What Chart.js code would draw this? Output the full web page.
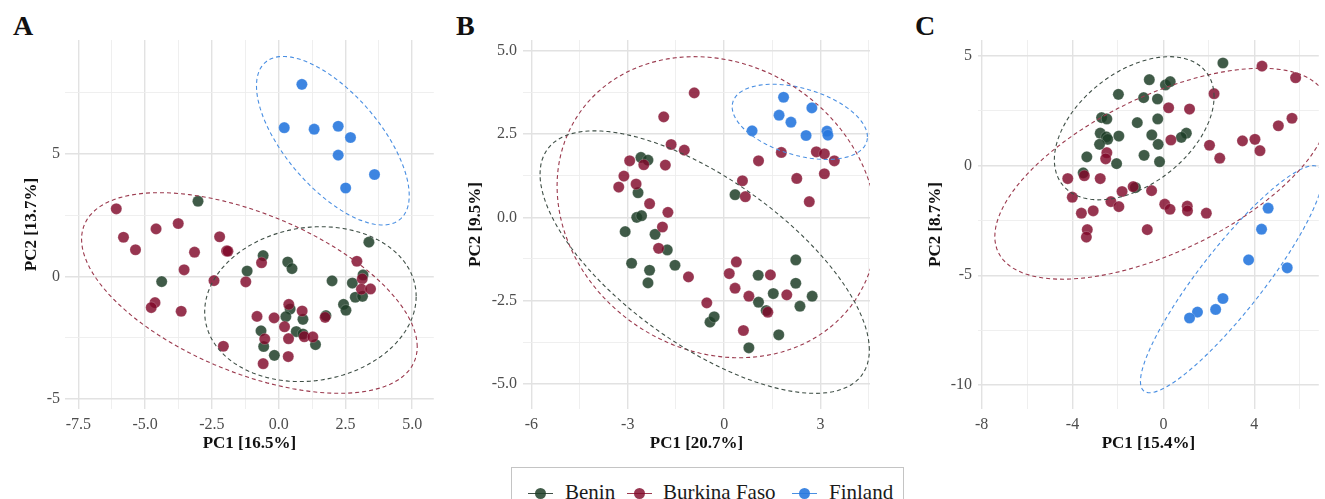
<!DOCTYPE html>
<html>
<head>
<meta charset="utf-8">
<script src="https://cdn.jsdelivr.net/npm/chart.js@4.4.1/dist/chart.umd.min.js"></script>
<style>
  body { margin: 0; background: #fff; width: 1325px; height: 499px; overflow: hidden; position: relative; font-family: "Liberation Serif", serif; }
  canvas { position: absolute; top: 0; }
  .tag { position: absolute; top: 10px; font-weight: bold; font-size: 28px; color: #111; }
  #legend { position: absolute; left: 511px; top: 467px; width: 391px; height: 45px; border: 1px solid #c4c4c4; background: #fff; }
  .key { position: absolute; top: 19px; width: 25px; height: 12px; }
  .key .ln { position: absolute; left: 0; top: 6px; width: 25px; height: 1px; }
  .key .dot { position: absolute; left: 7px; top: 1px; width: 11px; height: 11px; border-radius: 50%; }
  .lab { position: absolute; top: 12px; font-size: 21px; color: #1a1a1a; line-height: 24px; }
</style>
</head>
<body>
<div class="tag" style="left:13px">A</div>
<div class="tag" style="left:456px">B</div>
<div class="tag" style="left:915px">C</div>
<canvas id="chartA" width="440" height="460" style="left:0px"></canvas>
<canvas id="chartB" width="440" height="460" style="left:440px"></canvas>
<canvas id="chartC" width="445" height="460" style="left:880px"></canvas>
<div id="legend"></div>
<script>
// --- Données (PC1, PC2) ---
const groups = ["Benin", "Burkina Faso", "Finland"]

// Panneau A
const aBenin = [[-3.02,3.07],[3.38,1.40],[-4.38,-0.21],[-0.58,0.85],[-1.18,0.22],[0.34,0.59],[0.50,0.32],[2.0,-0.18],[2.76,-0.27],[3.16,0.06],[2.87,-0.85],[3.14,-0.81],[2.43,-1.14],[2.52,-1.38],[0.43,-1.33],[0.27,-1.64],[0.91,-1.75],[1.77,-1.60],[-0.66,-2.22],[0.66,-2.25],[0.91,-2.35],[-0.56,-2.86],[1.38,-2.78],[-0.16,-3.22]]
const aBurkina = [[-6.08,2.76],[-5.81,1.60],[-4.59,1.94],[-3.76,2.16],[-2.21,1.62],[-5.36,1.09],[-3.15,0.99],[-1.95,1.04],[-1.90,1.03],[-3.54,0.27],[-2.42,-0.17],[-1.23,-0.22],[-0.64,0.56],[2.93,0.62],[3.13,-0.10],[3.10,-0.52],[3.44,-0.51],[-4.63,-1.07],[-4.77,-1.27],[-3.65,-1.42],[-0.81,-1.63],[-0.17,-1.69],[0.38,-1.14],[0.88,-1.41],[0.22,-2.05],[1.74,-1.67],[-0.52,-2.55],[0.37,-2.54],[0.96,-2.46],[1.28,-2.47],[-2.07,-2.85],[0.36,-3.27],[-0.58,-3.56]]
const aFinland = [[0.87,7.84],[0.21,6.07],[1.33,6.01],[2.23,6.13],[2.69,5.67],[2.23,4.95],[3.59,4.16],[2.51,3.61]]

// Panneau B
const bBenin = [[-2.59,1.80],[-2.37,1.72],[-2.68,0.74],[-2.72,0.0],[-2.57,0.05],[-3.08,-0.43],[-2.15,-0.51],[-1.77,-0.98],[-2.88,-1.38],[-2.32,-1.59],[-2.37,-1.97],[-1.53,-1.44],[-0.44,-3.15],[-0.31,-2.99],[0.77,-3.92],[1.06,-1.74],[1.07,-2.55],[1.53,-2.29],[1.31,-2.80],[2.23,-1.28],[2.23,-1.98],[2.36,-2.67],[2.74,-2.37],[1.70,-3.53],[0.34,0.68]]
const bBurkina = [[-0.93,3.74],[-1.88,3.02],[-1.65,2.19],[-1.24,2.02],[-2.94,1.70],[-2.50,1.58],[-1.83,1.57],[-3.12,1.24],[-3.28,0.91],[-2.74,1.00],[-2.32,0.41],[-1.75,0.15],[-1.92,-0.29],[1.78,1.95],[1.07,1.70],[2.87,1.97],[3.12,1.91],[3.43,1.70],[3.12,1.31],[2.26,1.17],[0.57,1.10],[0.66,0.62],[2.65,0.47],[-2.04,-0.93],[-1.11,-1.79],[0.38,-1.34],[0.16,-1.69],[0.34,-2.13],[0.77,-2.37],[1.44,-1.73],[1.95,-2.33],[1.36,-2.85],[-0.54,-2.57],[0.60,-3.40]]
const bFinland = [[1.85,3.61],[2.73,3.29],[1.71,3.07],[2.08,2.86],[0.87,2.60],[2.55,2.46],[3.20,2.59],[3.23,2.47]]

// Panneau C
const cBenin = [[2.62,4.68],[-0.62,3.92],[0.09,3.68],[0.30,3.83],[-1.98,3.25],[-0.87,3.10],[-0.26,3.04],[-2.72,2.19],[-2.49,2.13],[-1.15,1.96],[-0.25,2.13],[-2.78,1.48],[-2.51,1.31],[-2.45,1.20],[-1.96,1.35],[-0.51,1.40],[-0.23,0.97],[1.01,1.48],[0.79,1.29],[-2.81,0.97],[-3.37,0.40],[-2.06,0.09],[-0.85,0.47],[-0.17,0.18],[-3.53,-0.33],[-1.23,-1.00]]
const cBurkina = [[4.34,4.54],[5.82,4.01],[2.23,3.28],[0.23,2.64],[1.15,2.58],[5.66,2.16],[5.06,1.82],[0.33,1.17],[2.03,0.93],[3.48,1.13],[4.03,1.20],[4.25,0.68],[2.48,0.34],[-2.49,0.59],[-2.54,0.31],[-4.21,-0.59],[-3.48,-0.46],[-2.78,-0.59],[-1.82,-1.18],[-1.33,-0.96],[-0.52,-1.14],[-4.01,-1.44],[-2.31,-1.64],[-1.96,-1.87],[0.06,-1.76],[0.29,-1.99],[1.05,-1.85],[1.06,-2.06],[1.89,-2.17],[-3.61,-2.17],[-3.09,-2.06],[-3.35,-2.92],[-3.39,-3.26],[-0.71,-2.92]]
const cFinland = [[4.61,-1.94],[4.32,-2.90],[3.75,-4.30],[5.45,-4.66],[2.62,-6.06],[2.30,-6.56],[1.50,-6.68],[1.15,-6.95]]

// Ellipses de confiance : [cx, cy, rx, ry, cos(phi)] (x = cx + rx cos t, y = cy + ry cos(t - phi))
const aEllipses = [[1.19,-1.13,3.96,3.16,0.10],[-1.095,-0.675,6.285,4.095,-0.536],[2.03,5.54,2.86,3.44,-0.65]]
const bEllipses = [[-0.605,-1.345,5.125,3.945,-0.67],[-0.225,0.305,4.975,4.525,-0.14],[2.355,2.87,2.105,1.13,-0.4]]
const cEllipses = [[-1.285,1.705,3.515,3.265,0.44],[-0.07,-0.37,7.35,4.81,0.595],[3.0,-5.18,4.01,5.18,0.9]]

// Graduations (majeures avec étiquettes, mineures sans)
const aXMajor = [-7.5,-5,-2.5,0,2.5,5], aXLabels = ["-7.5","-5.0","-2.5","0.0","2.5","5.0"], aXMinor = [-6.25,-3.75,-1.25,1.25,3.75]
const aYMajor = [-5,0,5], aYLabels = ["-5","0","5"], aYMinor = [-2.5,2.5,7.5]
const bXMajor = [-6,-3,0,3], bXLabels = ["-6","-3","0","3"], bXMinor = [-4.5,-1.5,1.5,4.5]
const bYMajor = [-5,-2.5,0,2.5,5], bYLabels = ["-5.0","-2.5","0.0","2.5","5.0"], bYMinor = [-3.75,-1.25,1.25,3.75]
const cXMajor = [-8,-4,0,4], cXLabels = ["-8","-4","0","4"], cXMinor = [-6,-2,2,6]
const cYMajor = [-10,-5,0,5], cYLabels = ["-10","-5","0","5"], cYMinor = [-7.5,-2.5,2.5]

// Couleurs
const pointColors = ["rgba(30,62,40,0.85)", "rgba(128,8,42,0.82)", "rgba(40,120,222,0.9)"]
const ellipseColors = ["#3f4f46", "#9b3a4e", "#4a8fe2"]

function ellipsePoints(e) {
  const [cx, cy, rx, ry, c] = e
  const phi = Math.acos(c)
  const pts = []
  for (let i = 0; i <= 120; i++) {
    const t = (i / 120) * 2 * Math.PI
    pts.push({ x: cx + rx * Math.cos(t), y: cy + ry * Math.cos(t - phi) })
  }
  return pts
}

function toXY(arr) {
  return arr.map((p) => ({ x: p[0], y: p[1] }))
}

function axis(cfg) {
  const all = cfg.major.concat(cfg.minor).sort((a, b) => a - b)
  const isMajor = (v) => cfg.major.some((m) => Math.abs(m - v) < 1e-9)
  return {
    type: "linear",
    min: cfg.min,
    max: cfg.max,
    afterBuildTicks: (s) => { s.ticks = all.map((v) => ({ value: v })) },
    afterFit: (s) => { if (cfg.width) s.width = cfg.width; if (cfg.height) s.height = cfg.height },
    border: { display: false },
    grid: {
      drawTicks: false,
      color: (ctx) => (ctx.tick && isMajor(ctx.tick.value) ? "#e2e2e2" : "#ededed"),
      lineWidth: (ctx) => (ctx.tick && isMajor(ctx.tick.value) ? 1.4 : 0.9),
    },
    ticks: {
      autoSkip: false,
      maxRotation: 0,
      padding: cfg.tickPad,
      color: "#4d4d4d",
      font: { family: "Liberation Serif", size: 16 },
      callback: (v) => {
        const i = cfg.major.findIndex((m) => Math.abs(m - v) < 1e-9)
        return i >= 0 ? cfg.labels[i] : ""
      },
    },
    title: {
      display: true,
      text: cfg.title,
      color: "#111",
      font: { family: "Liberation Serif", size: 17, weight: "bold" },
      padding: cfg.titlePad,
    },
  }
}

function makePanel(id, sets, ellipses, xCfg, yCfg, padRight) {
  const datasets = []
  // ellipses au-dessus des points
  ellipses.forEach((e, i) => {
    datasets.push({
      data: ellipsePoints(e),
      showLine: true,
      borderColor: ellipseColors[i],
      borderWidth: 1.1,
      borderDash: [4, 3],
      pointRadius: 0,
      fill: false,
      order: 0,
    })
  })
  sets.forEach((s, i) => {
    datasets.push({
      data: toXY(s),
      backgroundColor: pointColors[i],
      borderColor: "rgba(255,255,255,0.35)",
      borderWidth: 0.6,
      pointRadius: 5.6,
      order: 3 - i,
    })
  })
  new Chart(document.getElementById(id), {
    type: "scatter",
    data: { datasets },
    options: {
      responsive: false,
      animation: false,
      layout: { padding: { top: 40, right: padRight, left: 0, bottom: 0 } },
      plugins: { legend: { display: false }, tooltip: { enabled: false } },
      scales: { x: axis(xCfg), y: axis(yCfg) },
    },
  })
}

makePanel("chartA", [aBenin, aBurkina, aFinland], aEllipses,
  { min: -8.0, max: 5.81, major: aXMajor, minor: aXMinor, labels: aXLabels, title: "PC1 [16.5%]", height: 51, tickPad: 6, titlePad: { top: 0, bottom: 6 } },
  { min: -5.41, max: 9.65, major: aYMajor, minor: aYMinor, labels: aYLabels, title: "PC2 [13.7%]", width: 65, tickPad: 5, titlePad: { top: 21, bottom: 0 } },
  4)

makePanel("chartB", [bBenin, bBurkina, bFinland], bEllipses,
  { min: -6.26, max: 4.54, major: bXMajor, minor: bXMinor, labels: bXLabels, title: "PC1 [20.7%]", height: 51, tickPad: 6, titlePad: { top: 0, bottom: 6 } },
  { min: -5.76, max: 5.33, major: bYMajor, minor: bYMinor, labels: bYLabels, title: "PC2 [9.5%]", width: 83, tickPad: 6, titlePad: { top: 25, bottom: 0 } },
  10)

makePanel("chartC", [cBenin, cBurkina, cFinland], cEllipses,
  { min: -8.16, max: 6.84, major: cXMajor, minor: cXMinor, labels: cXLabels, title: "PC1 [15.4%]", height: 51, tickPad: 6, titlePad: { top: 0, bottom: 6 } },
  { min: -11.1, max: 5.73, major: cYMajor, minor: cYMinor, labels: cYLabels, title: "PC2 [8.7%]", width: 98, tickPad: 6, titlePad: { top: 45, bottom: 0 } },
  0)

// Légende commune
const keyX = [16, 115, 280]
const labX = [53, 151, 317]
const legend = document.getElementById("legend")
groups.forEach((g, i) => {
  const key = document.createElement("div")
  key.className = "key"
  key.style.left = keyX[i] + "px"
  key.innerHTML = '<div class="ln" style="background:' + ellipseColors[i] + '"></div><div class="dot" style="background:' + pointColors[i] + '"></div>'
  legend.appendChild(key)
  const lab = document.createElement("div")
  lab.className = "lab"
  lab.style.left = labX[i] + "px"
  lab.textContent = g
  legend.appendChild(lab)
})
</script>
</body>
</html>
